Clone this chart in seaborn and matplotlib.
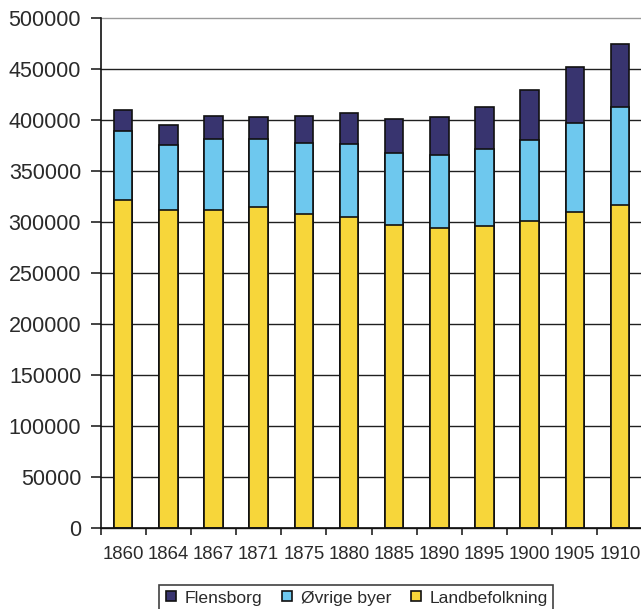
import matplotlib
matplotlib.use("Agg")
import matplotlib.pyplot as plt
from matplotlib.lines import Line2D
from matplotlib.ticker import FixedLocator, MultipleLocator
import seaborn as sns
import pandas as pd

# Population of the region by census year
years = ["1860", "1864", "1867", "1871", "1875", "1880",
         "1885", "1890", "1895", "1900", "1905", "1910"]
landbefolkning = [321900, 311700, 312100, 314600, 308200, 304900,
                  297300, 294400, 295700, 300600, 309800, 316300]
ovrige_byer = [67600, 63500, 69000, 66800, 69600, 71700,
               70200, 71500, 75700, 79700, 87600, 96200]
flensborg = [20300, 20200, 22800, 21500, 26400, 30500,
             33900, 36700, 41100, 49600, 54100, 62000]
series_names = ["Flensborg", "Øvrige byer", "Landbefolkning"]
yticks = list(range(0, 500001, 50000))

col_flens = "#38346f"
col_ovrige = "#6ec8ee"
col_land = "#f7d63a"

df = pd.DataFrame({
    "år": years,
    "land": landbefolkning,
    "ovrige": ovrige_byer,
    "flens": flensborg,
})
# cumulative heights for stacking
df["land_ovrige"] = df["land"] + df["ovrige"]
df["total"] = df["land_ovrige"] + df["flens"]

sns.set_style("white")
plt.rcParams["font.family"] = ["Liberation Sans", "DejaVu Sans"]
text_col = "#2a2a2a"

fig = plt.figure(figsize=(6.41, 6.09), dpi=100)
ax = fig.add_axes([100.6 / 641, 81 / 609, 541.9 / 641, 510 / 609])

common = dict(x="år", order=years, width=0.41, edgecolor="#111111",
              linewidth=1.2, saturation=1, errorbar=None, ax=ax)
sns.barplot(data=df, y="total", color=col_flens, **common)
sns.barplot(data=df, y="land_ovrige", color=col_ovrige, **common)
sns.barplot(data=df, y="land", color=col_land, **common)

ax.set_xlim(-0.5, len(years) - 0.5)
ax.set_ylim(0, 500000)
ax.set_xlabel("")
ax.set_ylabel("")

# horizontal gridlines
ax.set_axisbelow(True)
ax.yaxis.set_major_locator(FixedLocator(yticks))
ax.yaxis.grid(True, color="#202020", linewidth=1.0)
gl = ax.yaxis.get_gridlines()
gl[-1].set_color("#9a9a9a")
for line in gl:
    line.set_clip_on(False)

for s in ["top", "right"]:
    ax.spines[s].set_visible(False)
for s in ["left", "bottom"]:
    ax.spines[s].set_color("#111111")
    ax.spines[s].set_linewidth(1.2)

ax.set_yticklabels([str(v) for v in yticks], fontsize=15.5, color=text_col)
ax.tick_params(axis="y", direction="out", length=7, width=1.1,
               color="#111111", pad=7, left=True)

# category ticks between the bars
ax.xaxis.set_minor_locator(MultipleLocator(1, offset=0.5))
ax.tick_params(axis="x", which="major", length=0, pad=13,
               labelsize=13.4, labelcolor=text_col)
ax.tick_params(axis="x", which="minor", direction="out", length=5,
               width=1.1, color="#111111", bottom=True)

colors = [col_flens, col_ovrige, col_land]
handles = [Line2D([], [], marker="s", linestyle="none", markersize=7.5,
                  markerfacecolor=c, markeredgecolor="#111111",
                  markeredgewidth=1.2) for c in colors]
leg = fig.legend(handles, series_names, loc="upper center",
                 bbox_to_anchor=(356 / 641, 24 / 609), ncol=3,
                 frameon=True, fancybox=False, edgecolor="#111111",
                 fontsize=12.6, handlelength=0.8, handletextpad=0.4,
                 columnspacing=1.0, borderpad=0.3, borderaxespad=0)
leg.get_frame().set_linewidth(1.2)
for t in leg.get_texts():
    t.set_color(text_col)

fig.savefig("out.png", dpi=100, facecolor="white")
